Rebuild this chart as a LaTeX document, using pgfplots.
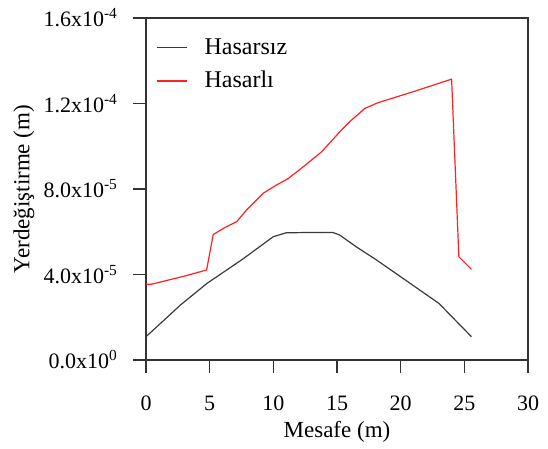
\documentclass[border=0pt]{standalone}
\usepackage{pgfplots}
\pgfplotsset{compat=1.18}
\usepackage{fontspec}
\setmainfont{Liberation Serif}
\definecolor{dk}{HTML}{3A3A3A}
\definecolor{rd}{HTML}{FF2020}
\definecolor{axc}{HTML}{333333}
\begin{document}
\begin{tikzpicture}
\begin{axis}[
  scale only axis, width=191pt, height=171pt,
  xmin=0, xmax=30, ymin=0, ymax=1.6e-4,
  axis lines=box,
  xtick={0,5,10,15,20,25,30},
  ytick={0,4e-5,8e-5,1.2e-4,1.6e-4},
  yticklabels={0.0x10\textsuperscript{0},4.0x10\textsuperscript{-5},8.0x10\textsuperscript{-5},1.2x10\textsuperscript{-4},1.6x10\textsuperscript{-4}},
  scaled y ticks=false,
  /pgf/number format/assume math mode=true,
  xtick pos=bottom, ytick pos=left,
  tick align=outside, major tick length=6.5pt,
  tick style={axc, line width=0.8pt},
  axis line style={axc, line width=0.8pt},
  ticklabel style={font=\fontsize{11}{13}\selectfont},
  xticklabel style={yshift=-8pt},
  yticklabel style={xshift=-4pt},
  xlabel={Mesafe (m)}, ylabel={Yerdeğiştirme (m)},
  label style={font=\fontsize{11.5}{13}\selectfont},
  xlabel style={at={(axis description cs:0.5,-0.21)}, anchor=center},
  ylabel style={at={(axis description cs:-0.32,0.5)}, anchor=center, rotate=0},
  legend style={at={(axis description cs:0,1)}, anchor=north west, draw=none, fill=none,
    font=\fontsize{12}{14}\selectfont, row sep=3pt, xshift=2pt, yshift=-6pt},
  legend cell align=left,
  legend image code/.code={\draw[#1] (0pt,0pt) -- (15pt,0pt); \path (21.5pt,0pt);},
]
\addplot[dk, line width=0.6pt] coordinates {
(0,1.09e-5) (1.3,1.8e-5) (2.7,2.57e-5) (4.8,3.59e-5) (7.5,4.68e-5) (10.0,5.77e-5)
(11.0,5.95e-5) (12.1,5.96e-5) (14.2,5.97e-5) (14.7,5.96e-5) (15.2,5.85e-5)
(16.5,5.3e-5) (18.1,4.68e-5) (20.3,3.77e-5) (23.0,2.65e-5) (25.56,1.09e-5)};
\addlegendentry{Hasarsız}
\addplot[rd, line width=0.6pt] coordinates {
(0,3.54e-5) (0.4,3.54e-5) (3.06,3.93e-5) (4.76,4.21e-5) (5.28,5.87e-5) (6.2,6.2e-5)
(7.12,6.47e-5) (7.9,7.02e-5) (9.2,7.8e-5) (10.26,8.19e-5) (11.17,8.49e-5)
(12.35,9.04e-5) (13.79,9.74e-5) (15.23,10.68e-5) (16.0,11.15e-5) (17.19,11.77e-5)
(18.23,12.04e-5) (20.98,12.55e-5) (24.0,13.14e-5) (24.57,4.83e-5) (25.56,4.24e-5)};
\addlegendentry{Hasarlı}
\coordinate (sw) at (rel axis cs:0,0);
\coordinate (ne) at (rel axis cs:1,1);
\end{axis}
\fill[axc] ([shift={(-0.5pt,-0.5pt)}]sw|-ne) rectangle ([shift={(0.5pt,0.5pt)}]ne);
\fill[axc] ([shift={(-0.5pt,0.5pt)}]ne) rectangle ([shift={(0.5pt,-0.5pt)}]ne|-sw);
\pgfresetboundingbox
\path ([shift={(-73pt,-44pt)}]sw) rectangle ([shift={(10pt,9pt)}]ne);
\end{tikzpicture}
\end{document}
